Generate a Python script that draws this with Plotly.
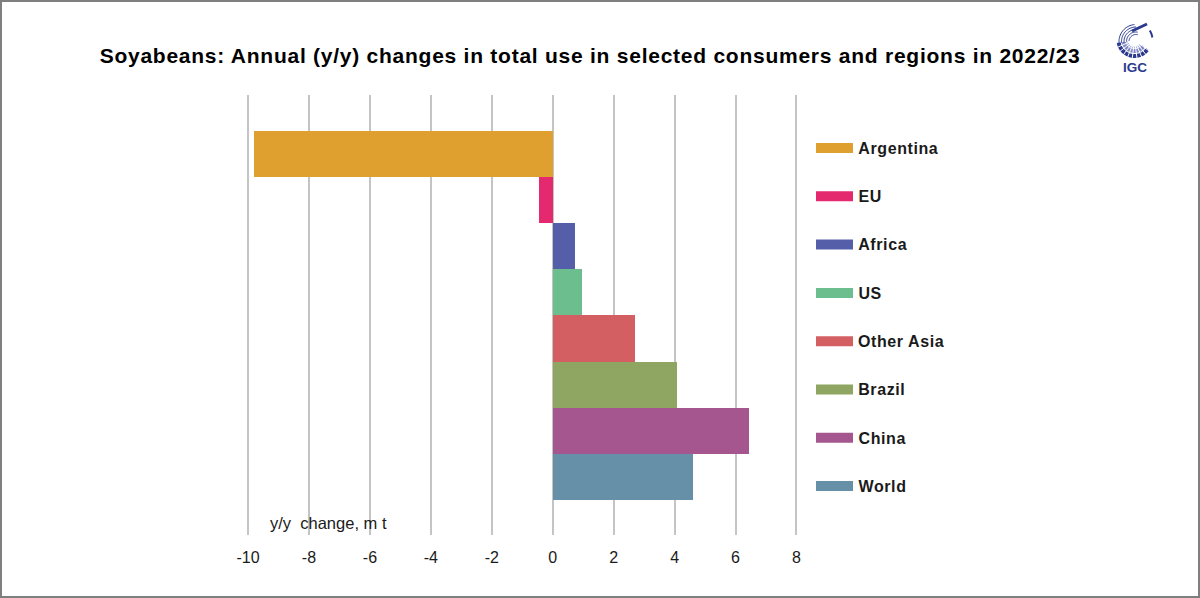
import numpy as np
import plotly.graph_objects as go

W, H = 1200, 598

categories = ["World", "China", "Brazil", "Other Asia", "US", "Africa", "EU", "Argentina"]
changes = [4.6, 6.45, 4.08, 2.7, 0.95, 0.72, -0.45, -9.8]
colours = ["#668FA8", "#A5568E", "#8FA562", "#D45F62", "#6DBE8F", "#555FA9", "#E5296F", "#E0A030"]
x_ticks = [-10, -8, -6, -4, -2, 0, 2, 4, 6, 8]
x_tick_labels = ["-10", "-8", "-6", "-4", "-2", "0", "2", "4", "6", "8"]

title_text = "Soyabeans: Annual (y/y) changes in total use in selected consumers and regions in 2022/23"
axis_note = "y/y  change, m t"
TEXT = "#1a1a1a"
LOGO = "#2B3A8F"
LEGEND_SPACING = 0.6
TITLE_SPACING = 0.75


def px(x):
    return x / W


def py(y):
    return 1 - y / H


def arc(cx, cy, r, a0, a1, n=24):
    # polyline along a circle, angles in degrees, screen y down
    t = np.radians(np.linspace(a0, a1, n))
    pts = [(px(cx + r * np.cos(a)), py(cy - r * np.sin(a))) for a in t]
    return "M " + " L ".join(f"{a:.5f},{b:.5f}" for a, b in pts)


fig = go.Figure()
fig.add_trace(go.Bar(
    y=categories,
    x=changes,
    orientation="h",
    marker=dict(color=colours, line=dict(width=0)),
    showlegend=False,
))

shapes = []
annotations = []

# legend drawn by hand, the swatches are long flat bars
for i, (name, col) in enumerate(zip(categories[::-1], colours[::-1])):
    yc = 148 + i * 48.3
    shapes.append(dict(type="rect", xref="paper", yref="paper",
                       x0=px(816), x1=px(853), y0=py(yc - 5), y1=py(yc + 5),
                       fillcolor=col, line_width=0))
    # spaced text grows both ways from the box centre, so push it right by half
    annotations.append(dict(text=f"<b>{name}</b>", xref="paper", yref="paper",
                            x=px(856 + len(name) * LEGEND_SPACING / 2), y=py(yc + 0.3),
                            xanchor="left", yanchor="middle",
                            showarrow=False,
                            font=dict(family="Liberation Sans", size=16, color=TEXT)))

annotations.append(dict(text=f"<b>{title_text}</b>", xref="paper", yref="paper",
                        x=px(589.5), y=py(56), xanchor="center", yanchor="middle",
                        showarrow=False,
                        font=dict(family="Liberation Sans", size=21, color="#000000")))
annotations.append(dict(text=axis_note, xref="paper", yref="paper",
                        x=px(268), y=py(522.5), xanchor="left", yanchor="middle",
                        showarrow=False,
                        font=dict(family="Liberation Sans", size=16.5, color=TEXT)))
annotations.append(dict(text="<b>IGC</b>", xref="paper", yref="paper",
                        x=px(1135), y=py(67), xanchor="center", yanchor="middle",
                        showarrow=False,
                        font=dict(family="Liberation Sans", size=13.5, color=LOGO)))

# IGC logo, rough globe
cx, cy = 1134.5, 40
for r, w, c in [(16, 4, LOGO), (11, 4, "#7F88C4"), (7.5, 2, "#B4B9DE")]:
    shapes.append(dict(type="path", xref="paper", yref="paper",
                       path=arc(cx, cy, r, 188, 325), line=dict(color=c, width=w)))
for a in range(188, 330, 15):
    t = np.radians(a)
    shapes.append(dict(type="line", xref="paper", yref="paper",
                       x0=px(cx + 6 * np.cos(t)), y0=py(cy - 6 * np.sin(t)),
                       x1=px(cx + 18.5 * np.cos(t)), y1=py(cy - 18.5 * np.sin(t)),
                       line=dict(color="white", width=1)))
for r, a0, a1 in [(17, 95, 185), (14.5, 90, 185), (12, 85, 185), (9.5, 80, 180), (7, 75, 175)]:
    shapes.append(dict(type="path", xref="paper", yref="paper",
                       path=arc(cx + 1.5, cy + 1.5, r, a0, a1), line=dict(color=LOGO, width=1)))
shapes.append(dict(type="path", xref="paper", yref="paper",
                   path=arc(cx, cy, 18, 8, 32, 8), line=dict(color=LOGO, width=2)))
shapes.append(dict(type="line", xref="paper", yref="paper",
                   x0=px(1132), y0=py(31), x1=px(1147), y1=py(24),
                   line=dict(color=LOGO, width=3)))

# outer frame
shapes.append(dict(type="rect", xref="paper", yref="paper",
                   x0=px(1), x1=px(1199), y0=py(1), y1=py(597),
                   fillcolor="rgba(0,0,0,0)", line=dict(color="#7F7F7F", width=2)))

fig.update_layout(
    template="none",
    width=W,
    height=H,
    margin=dict(l=0, r=0, t=0, b=0, pad=0),
    paper_bgcolor="white",
    plot_bgcolor="white",
    bargap=0,
    shapes=shapes,
    annotations=annotations,
    xaxis=dict(
        # range runs a bit past the end ticks, plotly drops gridlines on the edges
        domain=[px(238.9), px(805.6)],
        range=[-10.3, 8.3],
        tickvals=x_ticks,
        ticktext=x_tick_labels,
        ticks="outside",
        ticklen=8,
        tickcolor="rgba(0,0,0,0)",
        automargin=False,
        showgrid=True,
        gridcolor="#C4C4C4",
        gridwidth=2,
        zeroline=False,
        showline=False,
        tickfont=dict(family="Liberation Sans", size=16, color=TEXT),
    ),
    yaxis=dict(
        domain=[py(535), py(95)],
        range=[-1.26, 8.28],
        automargin=False,
        showticklabels=False,
        ticks="",
        showgrid=False,
        zeroline=False,
        showline=False,
    ),
)

# the reference text is set a little wide, plotly has no letter spacing option
spacing_js = """
document.body.style.margin = '0';
document.querySelectorAll('.annotation-text').forEach(function (t) {
  var s = t.textContent;
  if (s.indexOf('Soyabeans') === 0) { t.style.letterSpacing = '%spx'; }
  else if (s !== 'IGC' && s.indexOf('y/y') !== 0) { t.style.letterSpacing = '%spx'; }
});
""" % (TITLE_SPACING, LEGEND_SPACING)
fig.write_html("out.html", config={"displayModeBar": False}, post_script=spacing_js)
